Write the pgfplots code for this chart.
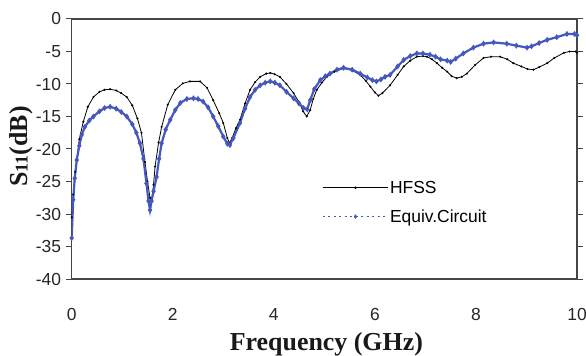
\documentclass[border=0pt]{standalone}
\usepackage{pgfplots}
\pgfplotsset{compat=1.18}
\usepackage{fontspec}
\setmainfont{Liberation Sans}
\newfontfamily\labfont{Liberation Serif}
\definecolor{eqblue}{RGB}{68,88,190}
\definecolor{axgray}{RGB}{70,70,70}
\begin{document}
\begin{tikzpicture}
\begin{axis}[
  name=ax,
  scale only axis,
  width=505.3bp, height=260bp,
  xmin=0, xmax=10, ymin=-40, ymax=0,
  xtick={0,2,4,6,8,10},
  ytick={-40,-35,-30,-25,-20,-15,-10,-5,0},
  axis line style={axgray, line width=1.1bp},
  xtick style={draw=none},
  ytick style={axgray, line width=1bp},
  tick align=outside,
  major tick length=6bp,
  /pgf/number format/assume math mode=true,
  ticklabel style={font=\fontsize{17.5}{19}\selectfont, text=black!85},
  yticklabel style={inner sep=4.5bp},
  xticklabel style={yshift=-20bp},
  xlabel={Frequency (GHz)},
  ylabel={S{\fontsize{18}{19}\selectfont 11}(dB)},
  label style={font=\labfont\bfseries\fontsize{26}{28}\selectfont, text=black!90},
  xlabel style={at={(axis description cs:0.504,0)}, anchor=base, yshift=-71bp},
  ylabel style={at={(axis description cs:-0.087,0.51)}, rotate=0, anchor=base},
  legend style={draw=none, fill=none, inner sep=0pt,
    at={(axis cs:4.95,-28.2)}, anchor=west,
    font=\fontsize{17.5}{19}\selectfont, row sep=11bp,
    /tikz/every even column/.append style={column sep=2bp}},
  legend cell align=left,
  legend image code/.code={\draw[#1, mark repeat=2, mark phase=2] plot coordinates {(0bp,0bp) (33bp,0bp) (65bp,0bp)};},
]
\addplot[black, line width=0.8bp, mark=*, mark size=0.6bp, forget plot] coordinates {
(0.00,-30.5) (0.03,-27) (0.07,-23.5) (0.10,-21.7) (0.15,-18.5) (0.23,-15.8)
(0.32,-13.5) (0.43,-12.0) (0.55,-11.2) (0.65,-10.9) (0.76,-10.8) (0.88,-11.0)
(0.98,-11.4) (1.09,-12.0) (1.20,-13.3) (1.30,-15.3) (1.38,-17.5) (1.45,-22.0)
(1.50,-25.0) (1.55,-27.5) (1.58,-28.0) (1.62,-25.5) (1.65,-22.7) (1.72,-19.0)
(1.78,-16.6) (1.90,-13.2) (2.05,-10.9) (2.20,-9.9) (2.34,-9.6) (2.54,-9.6)
(2.68,-10.6) (2.80,-12.5) (2.92,-14.5) (3.00,-16.0) (3.08,-18.3) (3.12,-19.1)
(3.18,-18.2) (3.25,-16.8) (3.33,-15.5) (3.43,-13.0) (3.53,-10.9) (3.63,-9.7)
(3.73,-8.9) (3.85,-8.4) (3.93,-8.3) (4.02,-8.5) (4.12,-8.9) (4.25,-10.0)
(4.39,-11.4) (4.50,-12.8) (4.58,-14.2) (4.65,-15.0) (4.72,-14.0) (4.78,-12.3)
(4.85,-10.9) (4.95,-9.8) (5.05,-8.9) (5.20,-8.1) (5.38,-7.6) (5.55,-7.9)
(5.71,-8.6) (5.82,-9.5) (5.91,-10.4) (6.00,-11.3) (6.07,-11.8) (6.15,-11.4)
(6.30,-10.2) (6.45,-8.6) (6.57,-7.3) (6.70,-6.4) (6.83,-5.8) (6.95,-5.7)
(7.03,-5.8) (7.13,-6.2) (7.23,-6.8) (7.33,-7.5) (7.43,-8.1) (7.52,-8.8)
(7.62,-9.1) (7.72,-8.9) (7.82,-8.4) (7.98,-7.1) (8.15,-6.0) (8.30,-5.8)
(8.48,-5.8) (8.62,-6.2) (8.74,-6.8) (8.90,-7.3) (9.02,-7.7) (9.14,-7.8)
(9.25,-7.4) (9.41,-6.8) (9.55,-6.0) (9.74,-5.2) (9.85,-5.0) (9.97,-5.0) (10.0,-5.2)
};
\addplot[eqblue, line width=2.2bp, mark=diamond*, mark size=1.2bp, forget plot] coordinates {
(0.00,-33.7) (0.03,-27.8) (0.06,-24.5) (0.10,-21.7) (0.15,-19.5) (0.20,-17.8)
(0.26,-16.6) (0.35,-15.6) (0.43,-15.0) (0.55,-14.2) (0.65,-13.7) (0.76,-13.5)
(0.88,-13.8) (0.98,-14.3) (1.09,-15.0) (1.20,-16.2) (1.28,-17.5) (1.35,-19.1)
(1.42,-21.5) (1.48,-25.3) (1.52,-28.0) (1.55,-29.4) (1.58,-28.0) (1.62,-26.5)
(1.68,-24.3) (1.73,-21.5) (1.78,-19.1) (1.86,-17.0) (1.95,-15.5) (2.05,-14.0)
(2.15,-12.9) (2.28,-12.3) (2.41,-12.2) (2.50,-12.3) (2.60,-12.7) (2.70,-13.6)
(2.80,-15.0) (2.90,-16.5) (3.00,-18.1) (3.08,-19.2) (3.13,-19.4) (3.20,-18.3)
(3.33,-16.0) (3.43,-13.8) (3.53,-12.0) (3.63,-10.9) (3.73,-10.2) (3.83,-9.8)
(3.93,-9.6) (4.02,-9.8) (4.12,-10.2) (4.25,-11.2) (4.39,-12.2) (4.50,-13.0)
(4.59,-13.7) (4.66,-13.9) (4.72,-12.5) (4.80,-10.8) (4.92,-9.4) (5.02,-8.8)
(5.11,-8.4) (5.25,-7.8) (5.38,-7.5) (5.55,-7.8) (5.71,-8.4) (5.85,-9.0)
(5.95,-9.4) (6.03,-9.6) (6.12,-9.3) (6.20,-8.9) (6.30,-8.6) (6.45,-7.3)
(6.57,-6.3) (6.70,-5.7) (6.83,-5.3) (6.95,-5.3) (7.09,-5.5) (7.20,-5.8)
(7.30,-6.2) (7.43,-6.4) (7.50,-6.6) (7.60,-6.1) (7.75,-5.3) (7.95,-4.4)
(8.15,-3.8) (8.35,-3.6) (8.61,-3.8) (8.80,-4.1) (9.01,-4.4) (9.10,-4.2)
(9.25,-3.7) (9.41,-3.2) (9.60,-2.8) (9.80,-2.3) (9.95,-2.3) (10.0,-2.5)
};
\addlegendimage{black, line width=0.8bp, mark=*, mark size=0.8bp}
\addlegendentry{HFSS}
\addlegendimage{eqblue, line width=1bp, dash pattern=on 2bp off 3.5bp, mark=diamond*, mark size=1.5bp, mark options={solid}}
\addlegendentry{Equiv.Circuit}
\end{axis}
\pgfresetboundingbox
\path[use as bounding box] ([xshift=-71.7bp,yshift=-77bp]ax.south west) rectangle ([xshift=9bp,yshift=19bp]ax.north east);
\end{tikzpicture}
\end{document}
